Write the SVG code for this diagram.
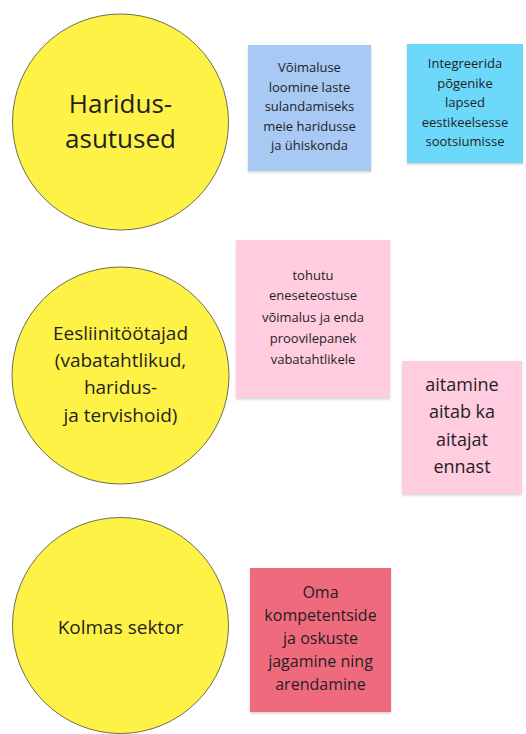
<svg xmlns="http://www.w3.org/2000/svg" width="526" height="734" viewBox="0 0 526 734">
<defs>
<filter id="sh" x="-10%" y="-10%" width="120%" height="125%">
<feDropShadow dx="0" dy="1.5" stdDeviation="1.2" flood-color="#000" flood-opacity="0.18"/>
</filter>
</defs>
<style>
.c{fill:#fef246;stroke:#4a4a3a;stroke-width:0.8}
.t{font-family:"Open Sans","Noto Sans",sans-serif;fill:#1f1f24;text-anchor:middle}
.s{filter:url(#sh)}
</style>
<rect width="526" height="734" fill="#fff"/>
<g id="connectors"/>
<g id="haridusasutused">
<circle class="c" cx="120.5" cy="122" r="108"/>
<text class="t" font-size="26" x="120.5" y="113">Haridus-</text>
<text class="t" font-size="26" x="120.5" y="148">asutused</text>
</g>
<g id="eesliinitootajad">
<circle class="c" cx="120.5" cy="375.5" r="108.5"/>
<text class="t" font-size="19" x="120.5" y="339.5">Eesliinitöötajad</text>
<text class="t" font-size="19" x="120.5" y="366.5">(vabatahtlikud,</text>
<text class="t" font-size="19" x="120.5" y="393.5">haridus-</text>
<text class="t" font-size="19" x="120.5" y="421.5">ja tervishoid)</text>
</g>
<g id="kolmas-sektor">
<circle class="c" cx="120.5" cy="625.5" r="108"/>
<text class="t" font-size="19" x="120.5" y="633.5">Kolmas sektor</text>
</g>
<g id="note-voimaluse">
<rect class="s" x="248" y="45" width="123" height="126" fill="#a7c9f3"/>
<text class="t" font-size="13" x="309.5" y="72">Võimaluse</text>
<text class="t" font-size="13" x="309.5" y="91.5">loomine laste</text>
<text class="t" font-size="13" x="309.5" y="111">sulandamiseks</text>
<text class="t" font-size="13" x="309.5" y="130.5">meie haridusse</text>
<text class="t" font-size="13" x="309.5" y="150">ja ühiskonda</text>
</g>
<g id="note-integreerida">
<rect class="s" x="407" y="44" width="116" height="119" fill="#6cd8fa"/>
<text class="t" font-size="13" x="465" y="68">Integreerida</text>
<text class="t" font-size="13" x="465" y="87.5">põgenike</text>
<text class="t" font-size="13" x="465" y="107">lapsed</text>
<text class="t" font-size="13" x="465" y="126.5">eestikeelsesse</text>
<text class="t" font-size="13" x="465" y="146">sootsiumisse</text>
</g>
<g id="note-tohutu">
<rect class="s" x="236" y="240" width="154" height="158" fill="#ffcce0"/>
<text class="t" font-size="13" x="313" y="280">tohutu</text>
<text class="t" font-size="13" x="313" y="300">eneseteostuse</text>
<text class="t" font-size="13" x="313" y="321.5">võimalus ja enda</text>
<text class="t" font-size="13" x="313" y="342.5">proovilepanek</text>
<text class="t" font-size="13" x="313" y="363.5">vabatahtlikele</text>
</g>
<g id="note-aitamine">
<rect class="s" x="402" y="361" width="120" height="133" fill="#ffcce0"/>
<text class="t" font-size="18" x="462" y="391">aitamine</text>
<text class="t" font-size="18" x="462" y="418">aitab ka</text>
<text class="t" font-size="18" x="462" y="446">aitajat</text>
<text class="t" font-size="18" x="462" y="473">ennast</text>
</g>
<g id="note-oma">
<rect class="s" x="250" y="568" width="141" height="144" fill="#f06b7e"/>
<text class="t" font-size="16" x="320.5" y="597.5">Oma</text>
<text class="t" font-size="16" x="320.5" y="620.5">kompetentside</text>
<text class="t" font-size="16" x="320.5" y="643.5">ja oskuste</text>
<text class="t" font-size="16" x="320.5" y="667">jagamine ning</text>
<text class="t" font-size="16" x="320.5" y="690">arendamine</text>
</g>
</svg>
